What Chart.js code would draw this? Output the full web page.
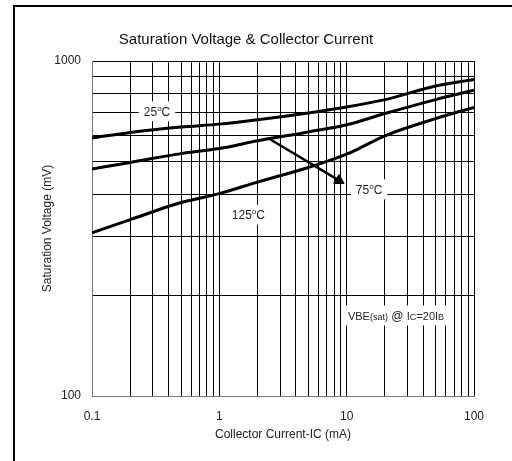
<!DOCTYPE html>
<html>
<head>
<meta charset="utf-8">
<script src="https://cdn.jsdelivr.net/npm/chart.js@4/dist/chart.umd.min.js"></script>
<style>
  html, body { margin: 0; padding: 0; background: #fff; }
</style>
</head>
<body>
<canvas id="chart" width="512" height="461"></canvas>
<script>
// Data
const current = [0.1, 0.2, 0.5, 1, 2, 5, 10, 20, 50, 100];
const vbe25 = [589, 612, 635, 648, 668, 700, 729, 767, 842, 880];
const vbe75 = [476, 498, 529, 548, 578, 614, 645, 697, 767, 818];
const vbe125 = [307, 336, 378, 402, 435, 481, 527, 598, 673, 727];

const arrowX = [2.5, 8.7];
const arrowY = [584, 440];

const xTicks = [0.1, 0.2, 0.3, 0.4, 0.5, 0.6, 0.7, 0.8, 0.9,
                1, 2, 3, 4, 5, 6, 7, 8, 9,
                10, 20, 30, 40, 50, 60, 70, 80, 90, 100];
const yTicks = [100, 200, 300, 400, 500, 600, 700, 800, 900, 1000];
const xLabelled = [0.1, 1, 10, 100];
const yLabelled = [100, 1000];

// text notes inside the plot: [text, size, raise]
const notes = [
  { x: 0.324, y: 708, parts: [["25", 12, 0], ["o", 8, 5], ["C", 12, 0]] },
  { x: 15, y: 414, parts: [["75", 12, 0], ["o", 8, 5], ["C", 12, 0]] },
  { x: 1.69, y: 348, parts: [["125", 12, 0], ["o", 8, 5], ["C", 12, 0]] },
  { x: 24.4, y: 174, parts: [["VBE", 11, 0], ["(sat)", 9, 0], [" @ ", 12, 0], ["I", 11, 0], ["C", 9, 0], ["=20I", 11, 0], ["B", 9, 0]] }
];

const FONT = "'Liberation Sans', Arial, sans-serif";

function xy(xs, ys) {
  return xs.map((x, i) => ({ x: x, y: ys[i] }));
}

// frame lines of the figure
const framePlugin = {
  id: "frame",
  beforeDraw(chart) {
    const ctx = chart.ctx;
    ctx.save();
    ctx.fillStyle = "#fff";
    ctx.fillRect(0, 0, chart.width, chart.height);
    ctx.fillStyle = "#000";
    ctx.fillRect(13, 5, 2, chart.height - 5);
    ctx.fillRect(13, 5, chart.width - 13, 2);
    ctx.restore();
  }
};

// boxed labels in data coordinates
const notesPlugin = {
  id: "notes",
  afterDatasetsDraw(chart) {
    const ctx = chart.ctx;
    const xs = chart.scales.x, ys = chart.scales.y;
    ctx.save();
    notes.forEach(n => {
      const cx = xs.getPixelForValue(n.x);
      const cy = ys.getPixelForValue(n.y);
      let total = 0;
      n.parts.forEach(p => {
        ctx.font = p[1] + "px " + FONT;
        total += ctx.measureText(p[0]).width;
      });
      ctx.fillStyle = "#fff";
      ctx.fillRect(cx - total / 2 - 5, cy - 10, total + 10, 20);
      let px = cx - total / 2;
      const base = cy + 4.5;
      ctx.fillStyle = "#222";
      ctx.textBaseline = "alphabetic";
      ctx.textAlign = "left";
      n.parts.forEach(p => {
        ctx.font = p[1] + "px " + FONT;
        ctx.fillText(p[0], px, base - p[2]);
        px += ctx.measureText(p[0]).width;
      });
    });
    ctx.restore();
  }
};

const curveStyle = {
  borderColor: "#000",
  borderWidth: 3,
  pointRadius: 0,
  fill: false,
  cubicInterpolationMode: "monotone"
};

new Chart(document.getElementById("chart"), {
  type: "line",
  data: {
    datasets: [
      Object.assign({ label: "25°C", data: xy(current, vbe25) }, curveStyle),
      Object.assign({ label: "75°C", data: xy(current, vbe75) }, curveStyle),
      Object.assign({ label: "125°C", data: xy(current, vbe125) }, curveStyle),
      {
        label: "arrow",
        data: xy(arrowX, arrowY),
        borderColor: "#000",
        borderWidth: 2.5,
        pointRadius: [0, 6],
        pointStyle: "triangle",
        pointRotation: 121,
        pointBackgroundColor: "#000",
        pointBorderColor: "#000",
        pointBorderWidth: 1
      }
    ]
  },
  options: {
    responsive: false,
    animation: false,
    devicePixelRatio: 1,
    layout: { padding: { left: 18, right: 38, top: 0, bottom: 0 } },
    plugins: {
      legend: { display: false },
      tooltip: { enabled: false },
      title: {
        display: true,
        text: "Saturation Voltage & Collector Current",
        color: "#111",
        font: { family: FONT, size: 15, weight: "normal" },
        padding: { top: 31, bottom: 12 }
      }
    },
    scales: {
      x: {
        type: "logarithmic",
        min: 0.1,
        max: 100,
        afterBuildTicks: (s) => { s.ticks = xTicks.map(v => ({ value: v })); },
        afterFit: (s) => { s.height = 65; },
        grid: { color: "#000", lineWidth: 1, drawTicks: false },
        border: { display: true, color: "#777", width: 1 },
        ticks: {
          padding: 13,
          color: "#222",
          maxRotation: 0,
          autoSkip: false,
          font: { family: FONT, size: 12 },
          callback: (v) => xLabelled.includes(v) ? String(v) : ""
        },
        title: {
          display: true,
          text: "Collector Current-IC (mA)",
          color: "#222",
          font: { family: FONT, size: 12 },
          padding: { top: 0, bottom: 19 }
        }
      },
      y: {
        type: "logarithmic",
        min: 100,
        max: 1000,
        afterBuildTicks: (s) => { s.ticks = yTicks.map(v => ({ value: v })); },
        afterFit: (s) => { s.width = 74; },
        grid: { color: "#000", lineWidth: 1, drawTicks: false },
        border: { display: true, color: "#777", width: 1 },
        ticks: {
          padding: 11,
          color: "#222",
          autoSkip: false,
          font: { family: FONT, size: 12 },
          callback: (v) => yLabelled.includes(v) ? String(v) : ""
        },
        title: {
          display: true,
          text: "Saturation Voltage (mV)",
          color: "#222",
          font: { family: FONT, size: 12 },
          padding: { top: 22, bottom: 0 }
        }
      }
    }
  },
  plugins: [framePlugin, notesPlugin]
});
</script>
</body>
</html>
